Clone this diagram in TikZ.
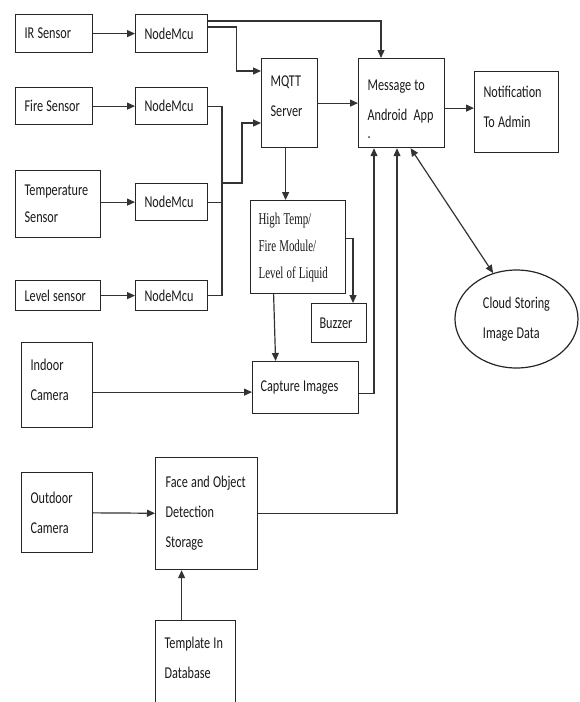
\documentclass[tikz,border=0pt]{standalone}
\usepackage{fontspec}
\setmainfont{Carlito}[FakeStretch=0.74]
\newfontfamily\camb{Liberation Serif}[FakeStretch=0.66]
\usetikzlibrary{arrows.meta,shapes.geometric}
\tikzset{
	txt/.style={align=left, text=black!90, font={\fontsize{16.5}{30}\selectfont},%
		execute at begin node={\spaceskip=3.2pt plus 1pt minus 1pt\hyphenpenalty=10000\relax}},
	blk/.style={txt, draw=black!85, line width=1.2pt, anchor=north west, inner xsep=9pt, inner ysep=0pt},
	ln/.style={draw=black!80, line width=1.2pt},
	arr/.style={ln, -{Triangle[length=8pt,width=7pt]}},
}

\begin{document}
\begin{tikzpicture}[x=1pt,y=-1pt]
					\clip (0,0) rectangle (579,702);
					\node[blk, text width=59pt, minimum height=38pt] (ir) at (15,14) {IR Sensor};
					\node[blk, text width=59pt, minimum height=37pt] (fire) at (15,87) {Fire Sensor};
					\node[blk, text width=67pt, minimum height=67pt, font={\fontsize{16.5}{27}\selectfont}] (temp) at (15,170) {Temperature\\Sensor};
					\node[blk, text width=67pt, minimum height=30pt] (level) at (15,280) {Level sensor};
					\foreach \n/\y/\h in {1/14/38, 2/87/37, 3/183/37, 4/280/30}{
						\node[blk, text width=54pt, minimum height=\h pt] (nm\n) at (135,\y) {NodeMcu};
					}
					\node[blk, text width=38pt, minimum height=89pt] (mqtt) at (261,58) {MQTT\\Server\rule[-14pt]{0pt}{1pt}};
					\node[blk, text width=68pt, minimum height=89pt] (msg) at (358,58) {\rule{0pt}{22pt}Message to\\Android\ \ App\\[-12pt].};
					\node[blk, text width=66pt, minimum height=81pt] (notif) at (474,71) {Notification\\To Admin\rule[-10pt]{0pt}{1pt}};
					\node[blk, text width=79pt, minimum height=93pt, inner xsep=8pt, font={\camb\fontsize{16.5}{27}\selectfont}] (high) at (250,200) {High Temp/\\Fire Module/\\Level of Liquid};
					\node[blk, text width=39pt, minimum height=39pt, inner xsep=8pt] (buzz) at (311,303) {Buzzer};
					\node[blk, text width=90pt, minimum height=52pt, inner xsep=8pt] (cap) at (252,361) {Capture Images};
					\node[blk, text width=53pt, minimum height=85pt] (indoor) at (21,342) {Indoor\\Camera\rule[-11pt]{0pt}{1pt}};
					\node[blk, text width=53pt, minimum height=80pt] (outdoor) at (21,472) {Outdoor\\Camera};
					\node[blk, text width=82pt, minimum height=112pt, inner xsep=10pt] (face) at (155,457) {Face and Object\\Detection\\Storage};
					\node[blk, text width=62pt, minimum height=96pt] (tmpl) at (155,620) {Template In\\Database\\[-8pt]\mbox{}};
					\node[txt, draw=black!85, line width=1.2pt, ellipse, minimum width=123pt, minimum height=98pt, inner sep=0pt] (cloud) at (516.5,319) {Cloud Storing\\Image Data};
					
					\foreach \s/\m in {ir/nm1, fire/nm2, level/nm4}{
						\draw[arr] (\s) -- (\m);
					}
					\draw[arr] (temp.east |- nm3) -- (nm3);
					\draw[arr] ([yshift=-7pt]nm1.north east) -| ([xshift=23pt]msg.north west);
					\draw[arr] ([yshift=-13pt]nm1.north east) -- ++(28,0) |- ([yshift=-13pt]mqtt.north west);
					\coordinate (bus) at (222,183);
					\draw[ln] (nm2) -| (bus) |- (nm4);
					\draw[ln] (nm3) -- (nm3 -| bus);
					\draw[arr] (bus) -- ++(20,0) |- ([yshift=-65pt]mqtt.north west);
					\draw[arr] (mqtt) -- (msg);
					\draw[arr] ([yshift=-5pt]msg.east) -- ([yshift=-5pt]msg.east -| notif.west);
					\draw[arr] ([xshift=-4pt]mqtt.south) -- ([xshift=-4pt]mqtt.south |- high.north);
					\draw[arr] ([yshift=8.5pt]high.east) -| ([xshift=42pt]buzz.north west);
					\draw[arr] ([xshift=-24.5pt]high.south) -- ([xshift=-30pt]cap.north);
					\draw[arr] ([yshift=-7pt]indoor.east) -- ([yshift=-7pt]indoor.east -| cap.west);
					\draw[arr] ([yshift=-6pt]cap.east) -| ([xshift=16pt]msg.south west);
					\draw[arr] (face) -| ([xshift=39pt]msg.south west);
					\draw[arr] (outdoor) -- (face);
					\draw[arr] ([xshift=-14pt]tmpl.north) -- ([xshift=-14pt]tmpl.north |- face.south);
					\draw[arr, {Triangle[length=8pt,width=7pt]}-{Triangle[length=8pt,width=7pt]}] ([xshift=9pt]msg.south) -- (cloud.117);
				\end{tikzpicture}
\end{document}
